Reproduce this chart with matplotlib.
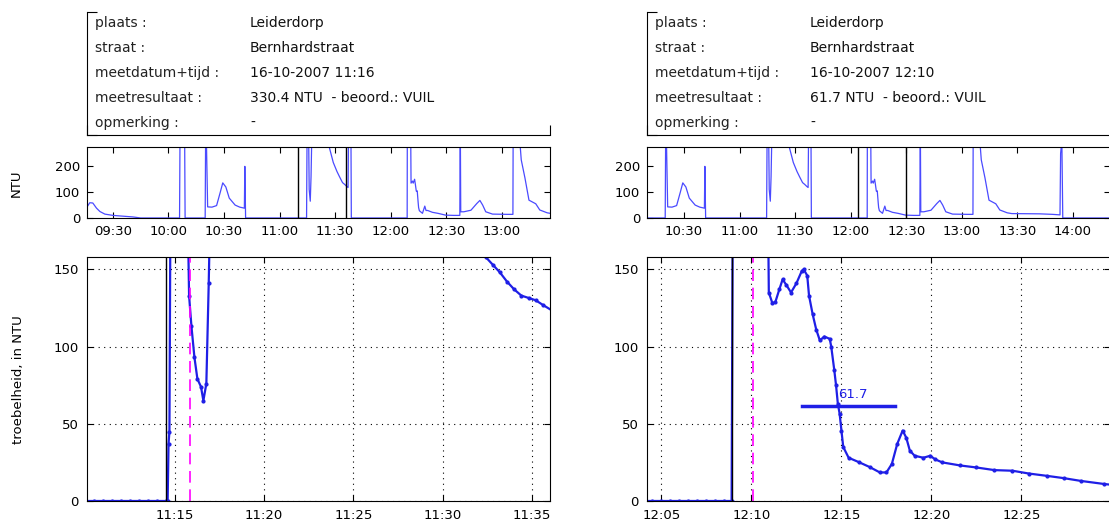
import matplotlib
matplotlib.use("Agg")
import matplotlib.pyplot as plt
import matplotlib.dates as mdates
import pandas as pd

DAY = "2007-10-16 "


def tt(lst):
    return pd.to_datetime([DAY + s for s in lst])


# info box texts
info_labels = ["plaats :", "straat :", "meetdatum+tijd :", "meetresultaat :", "opmerking :"]
left_values = ["Leiderdorp", "Bernhardstraat", "16-10-2007 11:16", "330.4 NTU  - beoord.: VUIL", "-"]
right_values = ["Leiderdorp", "Bernhardstraat", "16-10-2007 12:10", "61.7 NTU  - beoord.: VUIL", "-"]

# overview series (whole morning)
overview_time = [
    "09:16:00", "09:17:30", "09:19:10", "09:21:10", "09:23:00", "09:25:40", "09:30:00", "09:40:50", "09:45:00",
    "10:06:00", "10:06:20", "10:08:40", "10:09:00",
    "10:19:50", "10:20:10", "10:21:10", "10:23:30", "10:26:00", "10:28:00", "10:29:20", "10:31:00", "10:32:50",
    "10:36:00", "10:38:30", "10:41:00", "10:41:15", "10:41:40",
    "11:14:35", "11:14:50", "11:15:35", "11:16:00", "11:16:35", "11:17:00", "11:17:30", "11:20:00", "11:24:00",
    "11:27:00", "11:29:00", "11:31:00", "11:32:30", "11:34:00", "11:35:10", "11:36:10", "11:37:00", "11:37:20",
    "11:38:30", "11:38:45",
    "12:08:54", "12:09:00", "12:10:50", "12:11:00", "12:11:45", "12:12:10", "12:12:55", "12:13:20", "12:13:50",
    "12:14:20", "12:14:50", "12:15:05", "12:15:30", "12:17:10", "12:18:25", "12:19:05", "12:20:00", "12:22:30",
    "12:25:30", "12:29:40", "12:34:00",
    "12:37:20", "12:37:35", "12:37:50", "12:39:30", "12:43:20", "12:46:30", "12:48:10", "12:49:40", "12:51:20",
    "12:55:00", "13:03:00", "13:06:00", "13:06:10", "13:09:30", "13:10:30", "13:12:30", "13:14:40", "13:16:30",
    "13:18:20", "13:20:30", "13:24:30", "13:27:00", "13:42:00", "13:49:00", "13:53:00", "13:53:20", "13:54:00",
    "13:54:30", "14:20:00"]
overview_ntu = [
    42, 59, 58, 38, 25, 15, 10, 4, 0,
    0, 420, 420, 0,
    0, 430, 43, 42, 48, 100, 136, 120, 77,
    50, 42, 38, 200, 0,
    0, 300, 400, 110, 65, 160, 350, 420, 350,
    270, 215, 180, 158, 137, 130, 123, 118, 400,
    400, 0,
    0, 400, 300, 135, 143, 135, 150, 130, 104,
    105, 60, 40, 28, 18, 46, 29, 29, 22,
    18, 11, 10,
    10, 380, 24, 24, 30, 56, 68, 50, 24,
    15, 14, 14, 420, 320, 225, 155, 69, 62,
    55, 31, 20, 17, 16, 14, 12, 250, 300,
    0, 0]

# detail around first measurement
left_time = [
    "11:10:00", "11:10:30", "11:11:00", "11:11:30", "11:12:00", "11:12:30", "11:13:00", "11:13:30", "11:14:00",
    "11:14:30", "11:14:36", "11:14:39", "11:14:42", "11:14:48", "11:15:34", "11:15:48", "11:15:56", "11:16:06",
    "11:16:16", "11:16:28", "11:16:36", "11:16:46", "11:16:54", "11:17:00", "11:20:00", "11:25:00", "11:30:00",
    "11:32:24", "11:32:48", "11:33:12", "11:33:36", "11:34:00", "11:34:24", "11:34:48", "11:35:12", "11:35:36",
    "11:36:10"]
left_ntu = [
    0, 0, 0, 0, 0, 0, 0, 0, 0,
    0, 0, 37, 45, 300, 300, 133, 113, 93,
    79, 74, 65, 76, 141, 200, 420, 350, 190,
    158, 153, 148, 142, 137, 133, 131.5, 130, 127,
    123]

# detail around second measurement
right_time = [
    "12:04:00", "12:04:30", "12:05:00", "12:05:30", "12:06:00", "12:06:30", "12:07:00", "12:07:30", "12:08:00",
    "12:08:30", "12:08:54", "12:09:00", "12:10:50", "12:10:58", "12:11:10", "12:11:20", "12:11:33", "12:11:44",
    "12:11:56", "12:12:12", "12:12:30", "12:12:48", "12:12:54", "12:13:06", "12:13:12", "12:13:24", "12:13:36",
    "12:13:48", "12:14:03", "12:14:21", "12:14:26", "12:14:36", "12:14:42", "12:14:48", "12:14:54", "12:15:00",
    "12:15:06", "12:15:24", "12:16:00", "12:16:34", "12:17:08", "12:17:30", "12:17:48", "12:18:06", "12:18:24",
    "12:18:36", "12:18:48", "12:19:04", "12:19:33", "12:19:56", "12:20:12", "12:20:36", "12:21:36", "12:22:30",
    "12:23:30", "12:24:30", "12:25:24", "12:26:24", "12:27:21", "12:28:18", "12:29:36", "12:30:00"]
right_ntu = [
    0, 0, 0, 0, 0, 0, 0, 0, 0,
    0, 0, 300, 300, 135, 128, 129, 137, 143.5,
    140, 135, 141, 149, 150, 146, 133, 121, 111,
    104, 106.5, 105, 100, 85, 75, 63, 56.5, 45.6,
    35, 28, 25, 22, 18.5, 18.5, 24, 37, 45.6,
    41, 32.6, 29.3, 28, 29.3, 27, 25, 23, 21.7,
    20, 19.6, 17.8, 16.3, 14.8, 13, 11, 10.5]

meas_time = ["11:15:52", "12:10:04"]
meas_value = [330.4, 61.7]
flush_time = ["11:14:32", "12:08:54"]
avg_start = ["11:18:40", "12:12:48"]
avg_end = ["11:23:50", "12:17:57"]
label_time = ["11:20:42", "12:14:50"]
zoom_start = ["11:10:05", "12:04:12"]
zoom_end = ["11:36:00", "12:29:55"]
over_start = ["09:16:00", "10:10:00"]
over_end = ["13:26:00", "14:20:00"]

plt.rcParams['font.family'] = ['DejaVu Sans']
plt.rcParams['font.size'] = 9.5

fig = plt.figure(figsize=(11.09, 5.31), dpi=100)

cols = [0.0784, 0.5834]
W = 0.4175
YMAX = 158
ov_t = tt(overview_time)
details = [(tt(left_time), left_ntu), (tt(right_time), right_ntu)]
values = [left_values, right_values]
line_y = [0.911, 0.707, 0.504, 0.301, 0.098]

for i, x0 in enumerate(cols):
    # info box
    ax = fig.add_axes([x0, 0.7458, W, 0.2316])
    ax.set_xlim(0, 1)
    ax.set_ylim(0, 1)
    ax.spines['top'].set_visible(False)
    ax.spines['right'].set_visible(False)
    ax.set_xticks([0, 1])
    ax.set_yticks([0, 1])
    ax.tick_params(direction='in', length=7, labelbottom=False, labelleft=False)
    for lab, val, y in zip(info_labels, values[i], line_y):
        ax.text(0.017, y, lab, va='center', ha='left', fontsize=10, color='#222222')
        ax.text(0.352, y, val, va='center', ha='left', fontsize=10, color='#111111')

    # overview
    ax = fig.add_axes([x0, 0.5895, W, 0.1337])
    ax.plot(ov_t, overview_ntu, color='#4a4aff', lw=0.9)
    ax.axvline(tt([zoom_start[i]])[0], color='k', lw=1)
    ax.axvline(tt([zoom_end[i]])[0], color='k', lw=1)
    ax.set_xlim(tt([over_start[i]])[0], tt([over_end[i]])[0])
    ax.set_ylim(0, 275)
    ax.set_yticks([0, 100, 200])
    ax.xaxis.set_major_locator(mdates.MinuteLocator(byminute=[0, 30]))
    ax.xaxis.set_major_formatter(mdates.DateFormatter('%H:%M'))
    ax.tick_params(direction='in', top=True, right=True, length=4, pad=5)

    # detail
    t, v = details[i]
    ax = fig.add_axes([x0, 0.0565, W, 0.4595])
    ax.plot(t, v, color='#1f1fe6', lw=1.6, marker='.', ms=4)
    ax.axvline(tt([flush_time[i]])[0], color='k', lw=1)
    ax.axvline(tt([meas_time[i]])[0], color='#ff00ff', lw=1.2, dashes=(7, 4))
    ax.plot(tt([avg_start[i], avg_end[i]]), [meas_value[i], meas_value[i]], color='#1f1fe6', lw=2.5)
    if meas_value[i] < YMAX:
        ax.text(tt([label_time[i]])[0], meas_value[i] + 3, f"{meas_value[i]:.1f}",
                color='#1f1fe6', fontsize=9.5, ha='left', va='bottom')
    ax.set_xlim(tt([zoom_start[i]])[0], tt([zoom_end[i]])[0])
    ax.set_ylim(0, YMAX)
    ax.set_yticks([0, 50, 100, 150])
    ax.xaxis.set_major_locator(mdates.MinuteLocator(byminute=range(0, 60, 5)))
    ax.xaxis.set_major_formatter(mdates.DateFormatter('%H:%M'))
    ax.grid(True, color='k', linestyle=(0, (1, 4)), lw=0.8)
    ax.tick_params(direction='in', top=True, right=True, length=4, pad=6)

fig.text(0.015, 0.655, "NTU", rotation=90, ha='center', va='center', fontsize=9.5)
fig.text(0.017, 0.285, "troebelheid, in NTU", rotation=90, ha='center', va='center', fontsize=9.5)

fig.savefig("out.png", dpi=100)
